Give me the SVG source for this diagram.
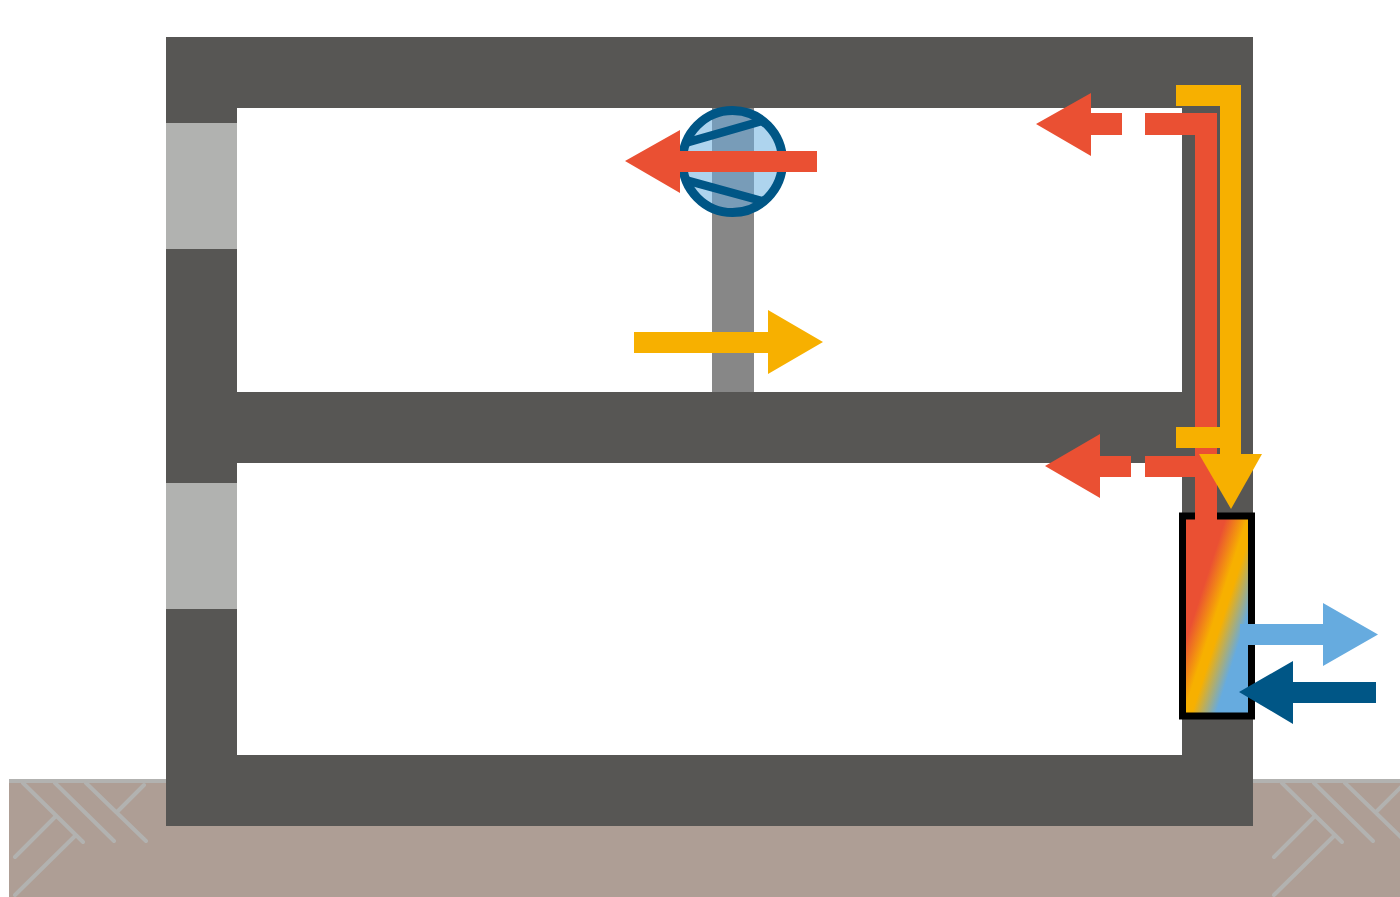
<svg xmlns="http://www.w3.org/2000/svg" width="1400" height="897" viewBox="0 0 1400 897">
<style>
.wall{fill:#575654}.win{fill:#b1b2b0}.red{fill:#ea5033}.yel{fill:#f7b000}.lb{fill:#66abdf}.db{fill:#005686}
.h{stroke:#b2b2b0;stroke-width:4;stroke-linecap:round;fill:none}
.blade{stroke:#005686;stroke-width:8.500;fill:none}
</style>
<defs>
<linearGradient id="grad" gradientUnits="userSpaceOnUse" x1="1196" y1="609" x2="1245" y2="625">
<stop offset="0" stop-color="#ea5033"/><stop offset="0.4" stop-color="#f7b000"/><stop offset="0.55" stop-color="#f7b000"/><stop offset="1" stop-color="#66abdf"/>
</linearGradient>
<clipPath id="fanclip"><ellipse cx="732.500" cy="161.500" rx="51" ry="52"/></clipPath>
<clipPath id="pageclip"><rect x="0" y="0" width="1400" height="897"/></clipPath>
<g id="hatch">
<path class="h" d="M23 783L83 842M55 783L114 841M86 783L146 841M144 785L117 812M55 817L15 857M75 836L15 895"/>
</g>
</defs>
<rect width="1400" height="897" fill="#fff"/>
<g id="ground">
<rect x="9" y="779" width="1391" height="118" fill="#ae9e95"/>
<rect x="9" y="779" width="1391" height="4" fill="#b2b2b0"/>
<use href="#hatch"/>
<use href="#hatch" x="1259" clip-path="url(#pageclip)"/>
</g>
<g id="building">
<path class="wall" fill-rule="evenodd" d="M166 37H1253V826H166ZM237 108V392H1182V108ZM237 463V755H1182V463Z"/>
<rect class="win" x="166" y="123" width="71" height="126"/>
<rect class="win" x="166" y="483" width="71" height="126"/>
</g>
<g id="duct"><rect x="712" y="108" width="42" height="284" fill="#878787"/></g>
<g id="fan">
<ellipse cx="732.500" cy="161.500" rx="51" ry="52" fill="#aed4ee"/>
<rect x="712" y="100" width="42" height="125" fill="#789cb8" clip-path="url(#fanclip)"/>
<g clip-path="url(#fanclip)">
<path class="blade" d="M682 144L762 121M682 179L762 201"/>
</g>
<ellipse cx="732.500" cy="161.500" rx="50" ry="51" fill="none" stroke="#005686" stroke-width="9"/>
</g>
<g id="exchanger">
<rect x="1182.500" y="516" width="69" height="200" fill="url(#grad)" stroke="#000" stroke-width="7"/>
</g>
<g id="connectors">
<path class="red" d="M1145 113H1217V520H1195V477H1145V456H1195V135H1145Z"/>
<polygon class="red" points="1036,124 1091,93 1091,113 1122,113 1122,135 1091,135 1091,156"/>
<polygon class="red" points="1045,466 1100,434 1100,456 1131,456 1131,477 1100,477 1100,498"/>
<polygon class="red" points="625,161 680,130 680,151 817,151 817,172 680,172 680,193"/>
<path class="yel" d="M1176 85H1241V454H1220V448H1176V427H1220V106H1176Z"/>
<polygon class="yel" points="1199,454 1262,454 1231,509"/>
<polygon class="yel" points="634,332 768,332 768,310 823,342 768,374 768,353 634,353"/>
<polygon class="lb" points="1240,624 1323,624 1323,603 1378,634.500 1323,666 1323,645 1240,645"/>
<polygon class="db" points="1239,692 1293,661 1293,682 1376,682 1376,703 1293,703 1293,724"/>
</g>
</svg>
